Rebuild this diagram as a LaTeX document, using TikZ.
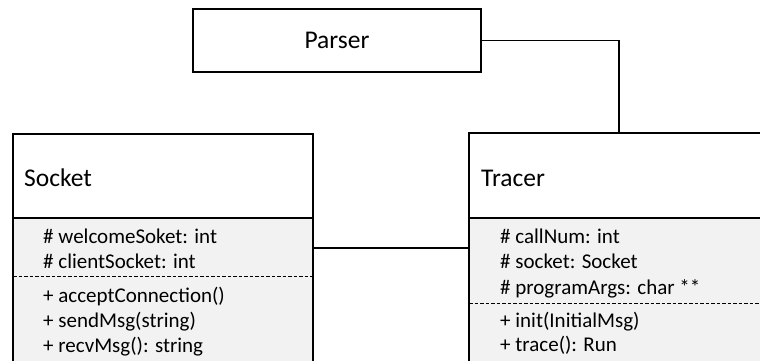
\documentclass[tikz,border=0pt]{standalone}
\usepackage{fontspec}
\setmainfont{Carlito}
\begin{document}
\begin{tikzpicture}[x=1pt,y=-1pt,
  box/.style={draw, line width=1.6pt, inner sep=0pt, outer sep=0pt},
  compartment/.style={box, fill=black!5},
  title/.style={anchor=base west, inner sep=0pt, font=\fontsize{25.5}{30}\selectfont},
  member/.style={anchor=base west, inner sep=0pt, font=\fontsize{21}{25}\selectfont},
  separator/.style={line width=0.9pt, dash pattern=on 3.5pt off 2pt},
  link/.style={line width=1.6pt}]
\useasboundingbox (0,0) rectangle (760,360);
\clip (0,0) rectangle (760,360);
\fill[white] (0,0) rectangle (760,360);

% Parser class
\node[box, minimum width=288pt, minimum height=63pt,
      font=\fontsize{25.5}{30}\selectfont] (parser) at (337,40.5) {Parser};

% Socket class
\node[box, anchor=north west, minimum width=300pt, minimum height=84pt] (socket) at (13,134) {};
\node[compartment, anchor=north west, minimum width=300pt, minimum height=170pt] (socketbody) at (13,218) {};
\node[title] (socketname) at (24,186) {Socket};
\node[member] (s1) at (43,243) {\# welcomeSoket: int};
\node[member] (s2) at (43,268) {\# clientSocket: int};
\draw[separator] (13,276) -- (313,276);
\node[member] (s3) at (43,302) {+ acceptConnection()};
\node[member] (s4) at (43,327) {+ sendMsg(string)};
\node[member] (s5) at (43,352) {+ recvMsg(): string};

% Tracer class
\node[box, anchor=north west, minimum width=320pt, minimum height=85pt] (tracer) at (469,133) {};
\node[compartment, anchor=north west, minimum width=320pt, minimum height=170pt] (tracerbody) at (469,218) {};
\node[title] (tracername) at (481,186) {Tracer};
\node[member] (t1) at (500,243) {\# callNum: int};
\node[member] (t2) at (500,268) {\# socket: Socket};
\node[member] (t3) at (500,294) {\# programArgs: char **};
\draw[separator] (469,303) -- (760,303);
\node[member] (t4) at (500,327) {+ init(InitialMsg)};
\node[member] (t5) at (500,351) {+ trace(): Run};

% associations
\coordinate (bend) at (619,40.5);
\coordinate (joint) at (0,248);
\draw[link] (parser.east) -- (bend) -- (bend |- tracer.north);
\draw[link] (socketbody.east |- joint) -- (tracerbody.west |- joint);
\end{tikzpicture}
\end{document}
